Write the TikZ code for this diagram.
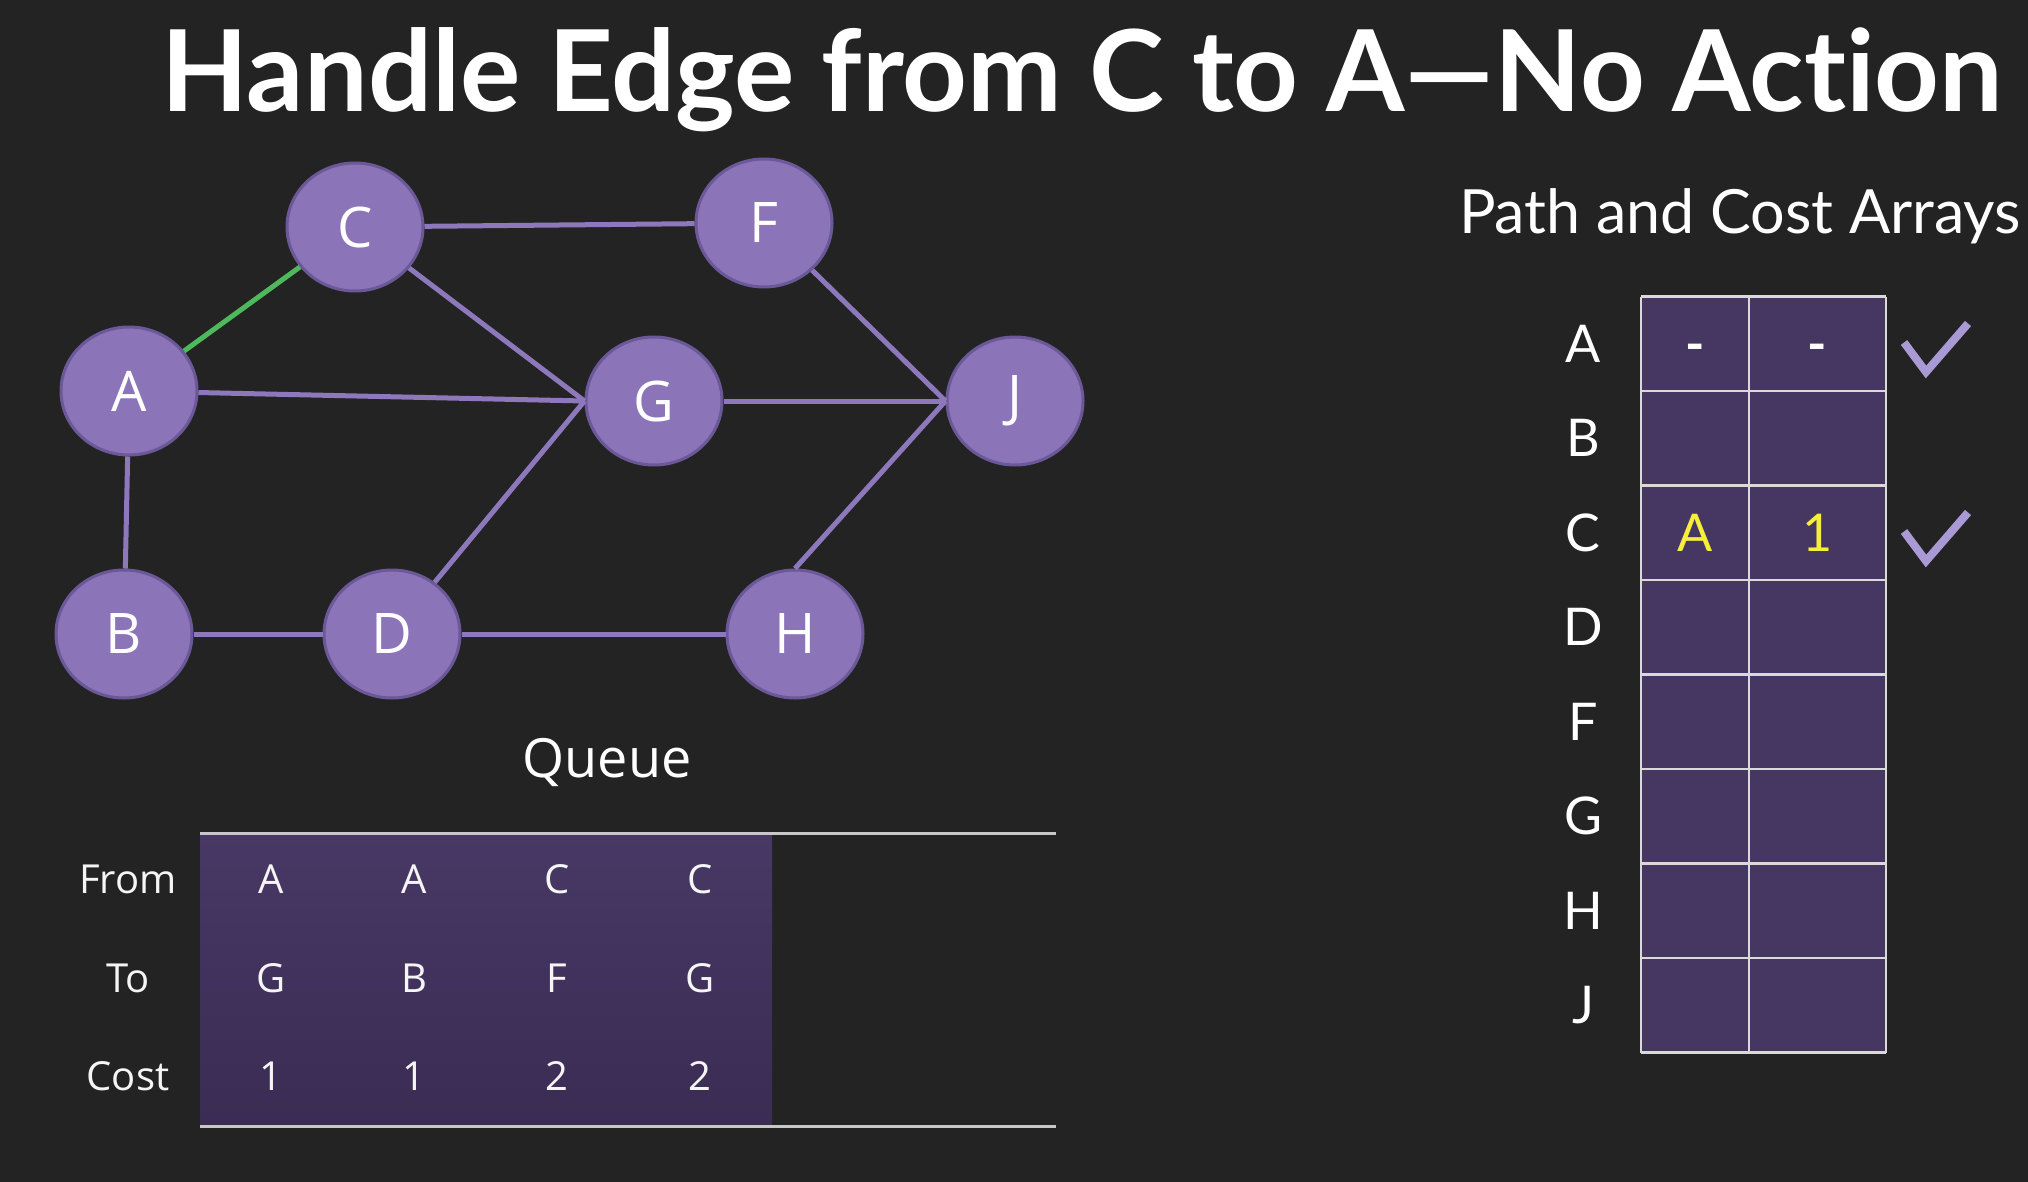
\documentclass[tikz,border=0pt]{standalone}
\usepackage{fontspec}
\setmainfont{Lato}[Ligatures=NoCommon]
\newfontfamily\nodefont{Open Sans}
\usetikzlibrary{shapes.geometric}
\definecolor{bg}{HTML}{232323}
\definecolor{nodefill}{HTML}{8C74B8}
\definecolor{nodeborder}{HTML}{6B5898}
\definecolor{edgecol}{HTML}{8E78BC}
\definecolor{greenedge}{HTML}{4DB85C}
\definecolor{tablefill}{HTML}{463662}
\definecolor{gridcol}{HTML}{DADADA}
\definecolor{qtop}{HTML}{473865}
\definecolor{qbot}{HTML}{3A2C53}
\definecolor{qline}{HTML}{C8C8C8}
\definecolor{checkcol}{HTML}{A999D4}
\definecolor{yel}{HTML}{F5EE3A}
\begin{document}
\begin{tikzpicture}[x=1pt,y=-1pt,
  vert/.style={ellipse,fill=nodefill,draw=nodeborder,line width=3pt,
    minimum width=136pt,minimum height=128pt,inner sep=0pt,
    text=white,font=\nodefont\fontsize{56}{64}\selectfont},
  edge/.style={draw=edgecol,line width=5pt},
  gedge/.style={draw=greenedge,line width=5pt},
  rowlab/.style={text=white,font=\fontsize{52}{60}\selectfont,inner sep=0pt},
  celltxt/.style={font=\fontsize{52}{60}\selectfont,inner sep=0pt},
  qtxt/.style={text=white!92!gray,font=\nodefont\fontsize{40}{46}\selectfont,inner sep=0pt},
  checkmark/.style={draw=checkcol,line width=8pt,line cap=butt,line join=miter}
]
\fill[bg] (0,0) rectangle (2028,1182);
\useasboundingbox (0,0) rectangle (2028,1182);

% title
\node[anchor=base,text=white,font=\bfseries\fontsize{113}{128}\selectfont,inner sep=0pt] (title) at (1082,112) {Handle Edge from C to A—No Act\kern0pt ion};

% graph
\node[vert] (C) at (355,227) {C};
\node[vert] (F) at (764,223) {F};
\node[vert] (A) at (129,391) {A};
\node[vert] (G) at (654,401) {G};
\node[vert] (J) at (1015,401) {J};
\node[vert] (B) at (124,634) {B};
\node[vert] (D) at (392,634) {D};
\node[vert] (H) at (795,634) {H};

\draw[edge] (C) -- (F);
\draw[edge] (C) -- (G.west);
\draw[edge] (A) -- (G.west);
\draw[edge] (D) -- (G.west);
\draw[edge] (G) -- (J.west);
\draw[edge] (F) -- (J.west);
\draw[edge] (H.north) -- (J.west);
\draw[edge] (A) -- (B);
\draw[edge] (B) -- (D);
\draw[edge] (D) -- (H);
\draw[gedge] (A) -- (C);

% path and cost arrays
\node[anchor=base,text=white,font=\fontsize{61}{70}\selectfont,inner sep=0pt] (ptitle) at (1740,234) {Path and Cost Arrays};
\fill[tablefill] (1641,296.6) rectangle (1886,1052.6);
\foreach \i in {0,...,8} {
  \draw[gridcol,line width=2.5pt] (1641,{296.6+94.5*\i}) -- (1886,{296.6+94.5*\i});
}
\foreach \x in {1641,1749,1886} {
  \draw[gridcol,line width=2.5pt] (\x,296.6) -- (\x,1052.6);
}
\foreach \lab [count=\i from 0] in {A,B,C,D,F,G,H,J} {
  \node[rowlab] (row\lab) at (1583,{296.6+94.5*\i+47.25}) {\lab};
}
\node[celltxt,text=white,anchor=base,font=\bfseries\fontsize{52}{60}\selectfont] (pA) at (1695,362) {-};
\node[celltxt,text=white,anchor=base,font=\bfseries\fontsize{52}{60}\selectfont] (cA) at (1817.5,362) {-};
\node[celltxt,text=yel] (pC) at (1695,532.85) {A};
\node[celltxt,text=yel] (cC) at (1817.5,532.85) {1};

\draw[checkmark] (1904,342.5) -- (1926,372) -- (1968,323.5);
\draw[checkmark] (1904,531.5) -- (1926,561) -- (1968,512.5);

% queue
\node[anchor=base,text=white,font=\nodefont\fontsize{54}{60}\selectfont,inner sep=0pt] (qtitle) at (607,777) {Queue};
\shade[top color=qtop,bottom color=qbot] (200,834) rectangle (772,1125);
\draw[qline,line width=3pt] (200,833) -- (1056,833);
\draw[qline,line width=3pt] (200,1126) -- (1056,1126);

\node[qtxt,anchor=base] (lfrom) at (128,893) {From};
\node[qtxt,anchor=base] (lto) at (128,992) {To};
\node[qtxt,anchor=base] (lcost) at (128,1090) {Cost};

\foreach \f/\t/\c [count=\k from 0] in {A/G/1,A/B/1,C/F/2,C/G/2} {
  \node[qtxt,anchor=base] (qf\k) at ({271+143*\k},893) {\f};
  \node[qtxt,anchor=base] (qt\k) at ({271+143*\k},992) {\t};
  \node[qtxt,anchor=base] (qc\k) at ({271+143*\k},1090) {\c};
}
\end{tikzpicture}
\end{document}
